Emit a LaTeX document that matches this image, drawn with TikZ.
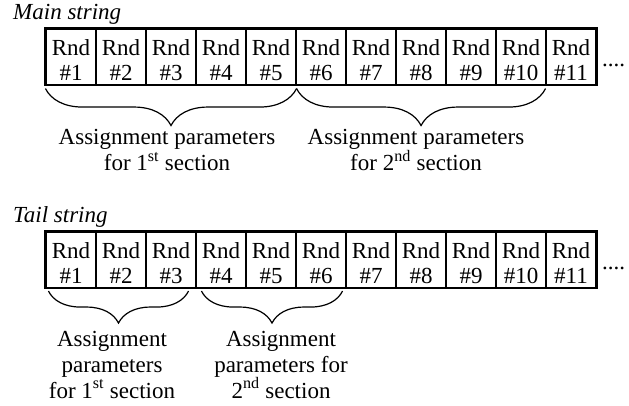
\documentclass[tikz,border=0pt]{standalone}
\usepackage{fontspec}
\setmainfont{Liberation Serif}
\usetikzlibrary{decorations.pathreplacing}
\begin{document}
\begin{tikzpicture}[x=1pt,y=-1pt,
  every node/.style={font=\fontsize{23}{25}\selectfont},
  cell/.style={draw,line width=1.1pt,inner sep=0pt,minimum width=50pt,
    text height=51pt,text depth=4.5pt,align=center},
  outer/.style={line width=2pt},
  brc/.style={decorate,decoration={brace,mirror,amplitude=#1,aspect=0.5},line width=1.2pt},
  note/.style={align=center,anchor=base,font=\fontsize{23}{26}\selectfont},
  title/.style={anchor=base west,font=\fontsize{23}{25}\selectfont\itshape},
  dotsnode/.style={anchor=base west,inner sep=0pt}]
\useasboundingbox (0,0) rectangle (629,405);
% Main string
\node[title,inner sep=0pt] (mt) at (13,19) {Main string};
\foreach \i in {1,...,11} {
  \node[cell] (m\i) at ({21+50*\i},56.75) {Rnd\\\#\i};
}
\draw[outer] (m1.north west) rectangle (m11.south east);
\node[dotsnode] (md) at (602,66) {....};
\coordinate (mb1) at ([yshift=-3.5pt]m1.south west);
\coordinate (mb2) at ([yshift=-3.5pt]m5.south east);
\coordinate (mb3) at ([yshift=-3.5pt,xshift=-1pt]m10.south east);
\draw[brc=37pt] (mb1) -- (mb2);
\draw[brc=37pt] (mb2) -- (mb3);
\node[note] (mn1) at (167,170.5) {Assignment parameters\\for 1\textsuperscript{st} section};
\node[note] (mn2) at (416,170.5) {Assignment parameters\\for 2\textsuperscript{nd} section};
% Tail string
\node[title,inner sep=0pt] (tt) at (13,222) {Tail string};
\foreach \i in {1,...,11} {
  \node[cell] (t\i) at ({21+50*\i},259.75) {Rnd\\\#\i};
}
\draw[outer] (t1.north west) rectangle (t11.south east);
\node[dotsnode] (td) at (602,269) {....};
\coordinate (tb1) at ([xshift=3pt,yshift=-3pt]t1.south west);
\coordinate (tb2) at ([xshift=-8pt,yshift=-3pt]t3.south east);
\coordinate (tb3) at ([xshift=6pt,yshift=-3pt]t4.south west);
\coordinate (tb4) at ([xshift=-4pt,yshift=-3pt]t6.south east);
\draw[brc=32pt] (tb1) -- (tb2);
\draw[brc=32pt] (tb3) -- (tb4);
\node[note] (tn1) at (112,398) {Assignment\\parameters\\for 1\textsuperscript{st} section};
\node[note] (tn2) at (281,398) {Assignment\\parameters for\\2\textsuperscript{nd} section};
\end{tikzpicture}
\end{document}
